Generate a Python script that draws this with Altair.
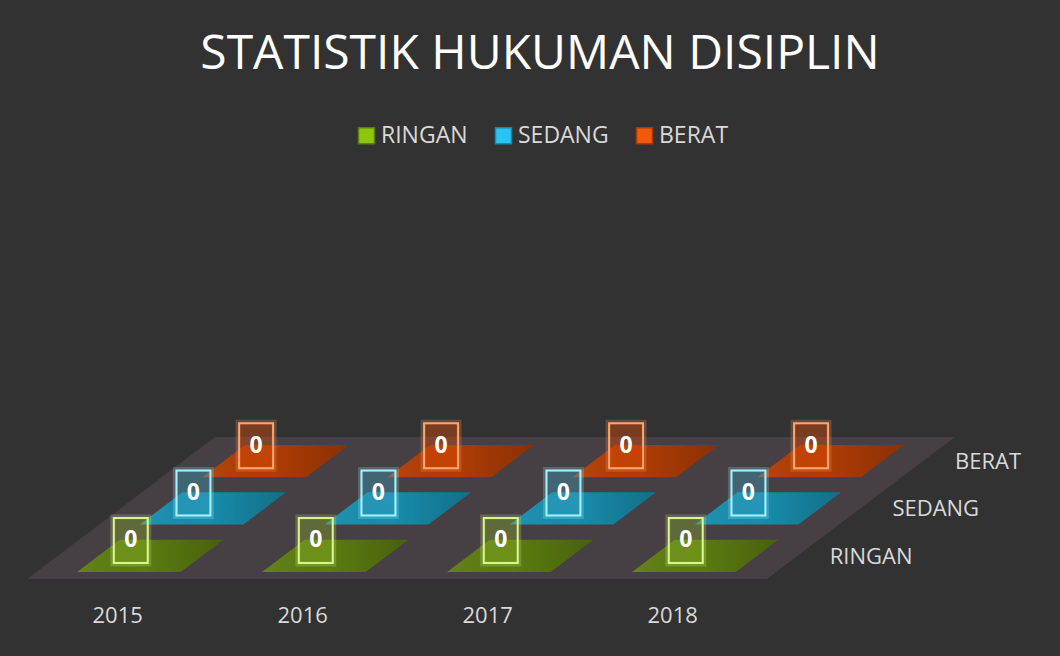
import altair as alt
import pandas as pd

# ---- data -------------------------------------------------------------
YEARS = ["2015", "2016", "2017", "2018"]
SERIES = ["RINGAN", "SEDANG", "BERAT"]
RINGAN = [0, 0, 0, 0]
SEDANG = [0, 0, 0, 0]
BERAT = [0, 0, 0, 0]
VALUES = {"RINGAN": RINGAN, "SEDANG": SEDANG, "BERAT": BERAT}

# ---- styling ----------------------------------------------------------
BG = "#323232"
FLOOR = "#463f43"
TEXT = "#d9d9d9"
FONT = "Open Sans"
LEGEND_FILL = ["#8cc611", "#27c5f2", "#f4580c"]
LEGEND_STROKE = ["#5a800b", "#168aa9", "#a53a07"]
SLAB_FILL = ["#5e800e", "#1691b3", "#b63d02"]
BOX_FILL = ["#8fb82a", "#3aa6c4", "#e04a08"]
BOX_OPACITY = [0.35, 0.4, 0.6]
BOX_STROKE = ["#d8f68c", "#a2f2ff", "#ffa46c"]

# ---- oblique projection of the 3-D floor ------------------------------
# world units: one year per x unit, one series row per depth unit
SKEW = 0.3387          # x shift per depth unit
LIFT = 1.0             # vertical units per value unit
X_DOMAIN = [-0.146, 5.584]
Y_DOMAIN = [-1.627, 10.331]
W, H, TOP = 1060, 566, 90

xs = alt.Scale(domain=X_DOMAIN, nice=False, zero=False)
ys = alt.Scale(domain=Y_DOMAIN, nice=False, zero=False)
X = lambda f: alt.X(f, type="quantitative", scale=xs, axis=None)
X2 = lambda f: alt.X2(f)
Y = lambda f: alt.Y(f, type="quantitative", scale=ys, axis=None)

n_year, n_ser = len(YEARS), len(SERIES)

# floor parallelogram (front and back edges)
floor = pd.DataFrame(
    [{"y": d, "x": 0 + d * SKEW, "x2": n_year + d * SKEW} for d in (0, n_ser)]
)

# top faces of the (flat) bars plus their value tags
slab_rows, tag_rows = [], []
for j, s in enumerate(SERIES):
    for i, yr in enumerate(YEARS):
        v = VALUES[s][i]
        for d in (j + 0.15, j + 0.83):
            slab_rows.append({
                "series": s, "year": yr, "key": f"{yr}-{s}",
                "y": d + v * LIFT,
                "x": i + 0.22 + d * SKEW, "x2": i + 0.78 + d * SKEW,
            })
        dt = j + 0.815
        tag_rows.append({
            "series": s, "year": yr, "value": v,
            "x": i + 0.285 + dt * SKEW, "y": dt + v * LIFT,
        })
slabs = pd.DataFrame(slab_rows)
tags = pd.DataFrame(tag_rows)

year_lbl = pd.DataFrame([{"year": yr, "x": i + 0.49, "y": -0.78} for i, yr in enumerate(YEARS)])
row_lbl = pd.DataFrame(
    [{"series": s, "x": 4.18 + (j + 0.47) * SKEW, "y": j + 0.47} for j, s in enumerate(SERIES)]
)

ser_scale = lambda rng: alt.Scale(domain=SERIES, range=rng)

LEGEND = dict(
    orient="none", direction="horizontal", legendX=355, legendY=34,
    title=None, symbolType="square", symbolSize=256, symbolStrokeWidth=1.5,
    labelFont=FONT, labelFontSize=23, labelColor=TEXT, labelOffset=3,
    columnPadding=24, symbolOpacity=1, labelLimit=0,
)

# legend carrier: zero-size rects hidden under the floor
legend_layer = alt.Chart(tags).mark_rect(strokeWidth=1.5).encode(
    x=X("x"), x2=X2("x"), y=Y("y"), y2=alt.Y2("y"),
    fill=alt.Fill("series:N", scale=ser_scale(LEGEND_FILL), legend=alt.Legend(**LEGEND)),
    stroke=alt.Stroke("series:N", scale=ser_scale(LEGEND_STROKE), legend=alt.Legend(**LEGEND)),
)

floor_layer = alt.Chart(floor).mark_area(orient="horizontal", color=FLOOR).encode(
    y=Y("y"), x=X("x"), x2=X2("x2")
)

slab_layer = alt.Chart(slabs).mark_area(orient="horizontal", fillOpacity=0.95).encode(
    y=Y("y"), x=X("x"), x2=X2("x2"), detail="key:N",
    fill=alt.Fill("series:N", scale=ser_scale(SLAB_FILL), legend=None),
)

shade_layer = alt.Chart(slabs).mark_area(
    orient="horizontal",
    fill=alt.Gradient(
        gradient="linear", x1=0, x2=1, y1=0, y2=0,
        stops=[alt.GradientStop(color="rgba(255,255,255,0.06)", offset=0),
               alt.GradientStop(color="rgba(0,0,0,0.0)", offset=0.45),
               alt.GradientStop(color="rgba(0,0,0,0.22)", offset=1)],
    ),
).encode(y=Y("y"), x=X("x"), x2=X2("x2"), detail="key:N")

glow_layer = alt.Chart(tags).mark_rect(width=36, height=47, fillOpacity=0, strokeWidth=5, strokeOpacity=0.22).encode(
    x=X("x"), y=Y("y"),
    stroke=alt.Stroke("series:N", scale=ser_scale(BOX_STROKE), legend=None),
)

box_layer = alt.Chart(tags).mark_rect(width=34, height=45, strokeWidth=2).encode(
    x=X("x"), y=Y("y"),
    fill=alt.Fill("series:N", scale=ser_scale(BOX_FILL), legend=None),
    fillOpacity=alt.FillOpacity("series:N", scale=ser_scale(BOX_OPACITY), legend=None),
    stroke=alt.Stroke("series:N", scale=ser_scale(BOX_STROKE), legend=None),
)

tag_text = alt.Chart(tags).mark_text(
    font=FONT, fontSize=23, fontWeight="bold", color="#ffffff", baseline="middle", align="center"
).encode(x=X("x"), y=Y("y"), text="value:Q")

year_text = alt.Chart(year_lbl).mark_text(
    font=FONT, fontSize=22, color=TEXT, baseline="middle", align="center"
).encode(x=X("x"), y=Y("y"), text="year:N")

row_text = alt.Chart(row_lbl).mark_text(
    font=FONT, fontSize=22, color=TEXT, baseline="middle", align="left"
).encode(x=X("x"), y=Y("y"), text="series:N")

chart = alt.layer(
    legend_layer, floor_layer, slab_layer, shade_layer,
    glow_layer, box_layer, tag_text, year_text, row_text,
).resolve_scale(
    fill="independent", stroke="independent", fillOpacity="independent"
).properties(
    width=W, height=H,
    padding={"left": 0, "top": TOP, "right": 0, "bottom": 0},
    autosize=alt.AutoSizeParams(type="none"),
    background=BG,
    title=alt.TitleParams(
        "STATISTIK HUKUMAN DISIPLIN", font=FONT, fontSize=48, fontWeight="normal",
        color="#ffffff", anchor="middle", baseline="alphabetic", offset=19, dx=10, dy=46,
    ),
).configure_view(strokeWidth=0)

chart.save("out.html", embed_options={"renderer": "svg", "actions": False})
